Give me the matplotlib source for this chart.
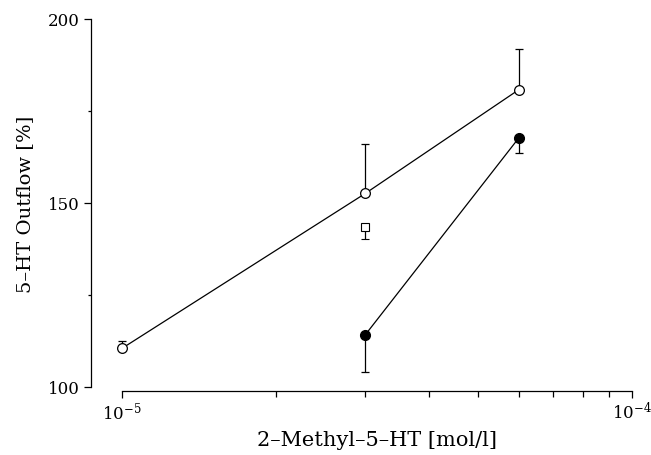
import matplotlib
matplotlib.use('Agg')
import matplotlib.pyplot as plt
from matplotlib.ticker import FixedLocator, NullFormatter

# data
conc_open = [1e-5, 3e-5, 6e-5]
outflow_open = [110.5, 152.6, 180.8]
err_open = [2.0, 13.5, 11.0]          # upward only

conc_filled = [3e-5, 6e-5]
outflow_filled = [114.2, 167.7]
err_filled = [10.0, 4.0]              # downward only

conc_square = [3e-5]
outflow_square = [143.6]
err_square = [3.5]                    # downward only

plt.rcParams['font.family'] = ['DejaVu Serif']
plt.rcParams['mathtext.fontset'] = 'dejavuserif'

fig = plt.figure(figsize=(6.51, 4.56), dpi=100)
ax = fig.add_axes([122 / 651, 68 / 456, 510 / 651, 368 / 456])

# open circles with line
ax.errorbar(conc_open, outflow_open, yerr=[[0] * len(err_open), err_open],
            fmt='-o', color='black', mfc='white', mec='black', ms=7, mew=0.9,
            lw=0.9, elinewidth=0.9, capsize=3, capthick=0.9, zorder=3,
            clip_on=False)
# filled circles with line
ax.errorbar(conc_filled, outflow_filled, yerr=[err_filled, [0] * len(err_filled)],
            fmt='-o', color='black', mfc='black', mec='black', ms=7,
            lw=0.9, elinewidth=0.9, capsize=3, capthick=0.9, zorder=3,
            clip_on=False)
# square, no line
ax.errorbar(conc_square, outflow_square, yerr=[err_square, [0]],
            fmt='s', color='black', mfc='white', mec='black', ms=6, mew=0.8,
            elinewidth=0.9, capsize=3, capthick=0.9, zorder=3, clip_on=False)

ax.set_xscale('log')
ax.set_xlim(1e-5, 1e-4)
ax.set_ylim(100, 200)

ax.xaxis.set_major_locator(FixedLocator([1e-5, 1e-4]))
ax.xaxis.set_minor_locator(FixedLocator([k * 1e-5 for k in range(2, 10)]))
ax.xaxis.set_minor_formatter(NullFormatter())
ax.set_xticklabels([r'10$^{-5}$', r'10$^{-4}$'])

ax.yaxis.set_major_locator(FixedLocator([100, 150, 200]))
ax.yaxis.set_minor_locator(FixedLocator([125, 175]))

for s in ['top', 'right']:
    ax.spines[s].set_visible(False)
ax.spines['left'].set_position(('outward', 22))
ax.spines['bottom'].set_position(('outward', 3))
ax.spines['left'].set_linewidth(0.9)
ax.spines['bottom'].set_linewidth(0.9)

ax.tick_params(axis='both', which='major', length=5, width=0.9, labelsize=12)
ax.tick_params(axis='x', which='minor', length=4, width=0.9)
ax.tick_params(axis='y', which='minor', length=2, width=0.9)
ax.tick_params(axis='x', which='major', pad=2)

ax.set_ylabel('5\u2013HT Outflow [%]', fontsize=14, labelpad=10)
ax.set_xlabel('2\u2013Methyl\u20135\u2013HT [mol/l]', fontsize=15, labelpad=5)

fig.savefig('out.png', dpi=100)
